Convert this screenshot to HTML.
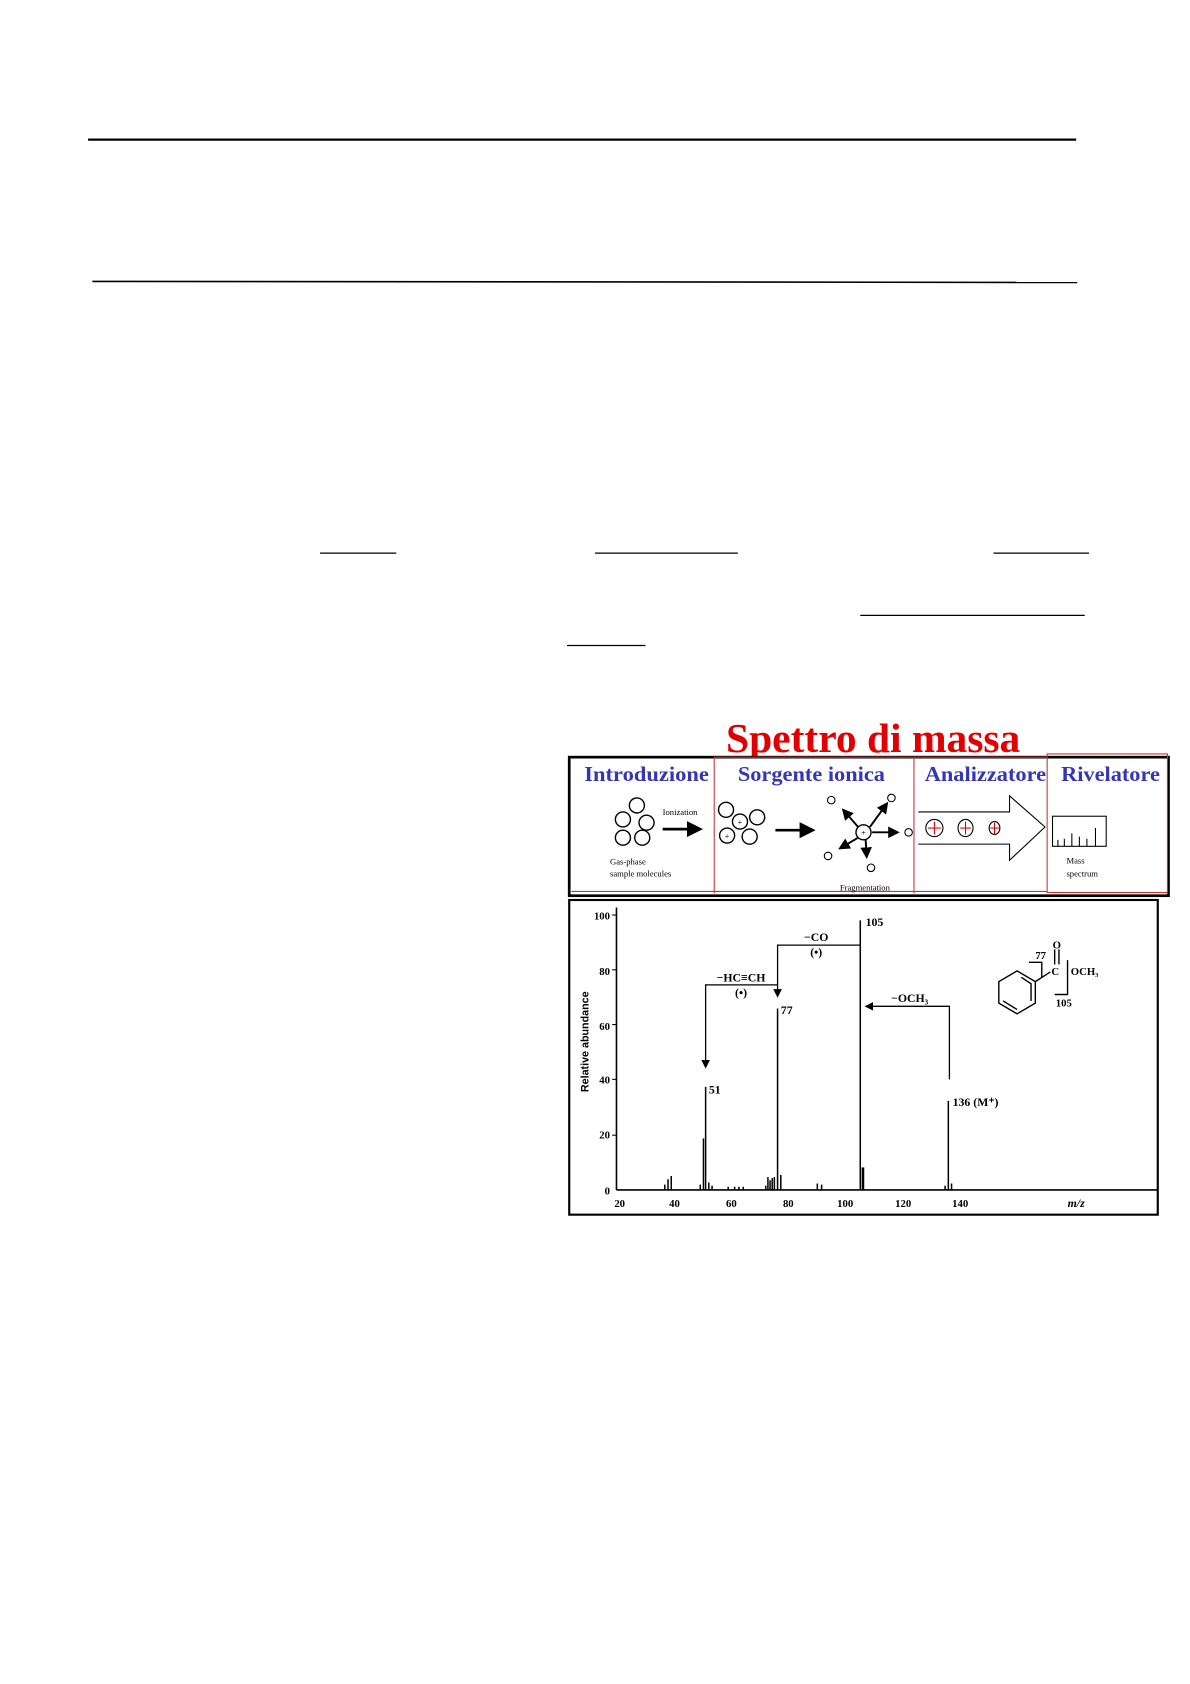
<!DOCTYPE html>
<html><head><meta charset="utf-8"><style>
html,body{margin:0;padding:0;background:#fff}
svg{display:block}
</style></head><body>
<svg width="1190" height="1684" viewBox="0 0 1108 1568" xmlns="http://www.w3.org/2000/svg" font-family="Liberation Serif, serif">
<line x1="82" y1="130" x2="1002" y2="130" stroke="#000" stroke-width="2"/>
<line x1="86" y1="262" x2="1003" y2="263" stroke="#000" stroke-width="1.5"/>
<g stroke="#000" stroke-width="1.2">
<line x1="298" y1="515" x2="369" y2="515"/>
<line x1="554" y1="515" x2="687" y2="515"/>
<line x1="925" y1="515" x2="1014" y2="515"/>
<line x1="801" y1="573" x2="1010" y2="573"/>
<line x1="528" y1="601" x2="601" y2="601"/>
</g>
<text x="676" y="700" font-size="38" font-weight="bold" fill="#e00000" textLength="274" lengthAdjust="spacingAndGlyphs">Spettro di massa</text>
<rect x="530" y="705" width="558" height="129" fill="#fff" stroke="#000" stroke-width="2.5"/>
<g stroke="#d03030" stroke-width="1" fill="none">
<line x1="665" y1="705" x2="665" y2="832"/>
<line x1="851" y1="705" x2="851" y2="832"/>
<rect x="975" y="702" width="112" height="129"/>
<line x1="532" y1="830" x2="975" y2="830"/>
<line x1="665" y1="705" x2="975" y2="705"/>
</g>
<g font-size="20" font-weight="bold" fill="#3535b5">
<text x="544" y="727" textLength="116" lengthAdjust="spacingAndGlyphs">Introduzione</text>
<text x="687" y="727" textLength="137" lengthAdjust="spacingAndGlyphs">Sorgente ionica</text>
<text x="861" y="727" textLength="113" lengthAdjust="spacingAndGlyphs">Analizzatore</text>
<text x="988" y="727" textLength="92" lengthAdjust="spacingAndGlyphs">Rivelatore</text>
</g>
<g fill="none" stroke="#000" stroke-width="1.3">
<circle cx="593" cy="750" r="7"/><circle cx="580" cy="763" r="7"/><circle cx="602" cy="766" r="7"/><circle cx="580" cy="780" r="7"/><circle cx="598" cy="780" r="7"/>
<circle cx="676" cy="754" r="7"/><circle cx="689" cy="765" r="7"/><circle cx="705" cy="761" r="7"/><circle cx="677" cy="778" r="7"/><circle cx="698" cy="779" r="7"/>
<circle cx="804" cy="775" r="7"/>
</g>
<g font-size="8" fill="#000">
<text x="617" y="759">Ionization</text>
<text x="568" y="805">Gas-phase</text>
<text x="568" y="816">sample molecules</text>
<text x="782" y="829">Fragmentation</text>
<text x="993" y="804">Mass</text>
<text x="993" y="816">spectrum</text>
<text x="689" y="768" text-anchor="middle">+</text>
<text x="677" y="781" text-anchor="middle">+</text>
<text x="804" y="778" text-anchor="middle">+</text>
</g>
<defs><marker id="ah" markerWidth="6" markerHeight="6" refX="5" refY="3" orient="auto"><path d="M0,0 L6,3 L0,6 z" fill="#000"/></marker>
<marker id="ah2" markerWidth="8" markerHeight="8" refX="7" refY="4" orient="auto" markerUnits="userSpaceOnUse"><path d="M0,0 L8,4 L0,8 z" fill="#000"/></marker></defs>
<g stroke="#000" stroke-width="2.5">
<line x1="617" y1="772" x2="652" y2="772" marker-end="url(#ah)"/>
<line x1="722" y1="773" x2="757" y2="773" marker-end="url(#ah)"/>
</g>
<g stroke="#000" stroke-width="1.8">
<line x1="810" y1="770" x2="826" y2="748" marker-end="url(#ah)"/>
<line x1="799" y1="770" x2="785" y2="754" marker-end="url(#ah)"/>
<line x1="799" y1="780" x2="782" y2="790" marker-end="url(#ah)"/>
<line x1="806" y1="782" x2="807" y2="798" marker-end="url(#ah)"/>
<line x1="812" y1="775" x2="836" y2="775" marker-end="url(#ah)"/>
</g>
<g fill="none" stroke="#000" stroke-width="1">
<circle cx="774" cy="745" r="3.5"/><circle cx="830" cy="743" r="3.5"/><circle cx="771" cy="797" r="3.5"/><circle cx="811" cy="808" r="3.5"/><circle cx="846" cy="775" r="3.5"/>
</g>
<path d="M855,756 L940,756 L940,741 L973,770 L940,801 L940,786 L855,786" fill="#fff" stroke="#000" stroke-width="1"/>
<g fill="none" stroke="#000" stroke-width="1"><ellipse cx="870" cy="771" rx="8" ry="8"/><ellipse cx="899" cy="771" rx="7" ry="8"/><ellipse cx="926" cy="771" rx="5" ry="6"/></g>
<g stroke="#e00000" stroke-width="1"><line x1="864" y1="771" x2="876" y2="771"/><line x1="870" y1="765" x2="870" y2="777"/><line x1="894" y1="771" x2="904" y2="771"/><line x1="899" y1="765" x2="899" y2="777"/><line x1="922" y1="771" x2="931" y2="771"/><line x1="926" y1="766" x2="926" y2="777"/></g>
<rect x="980" y="760" width="50" height="28" fill="none" stroke="#000" stroke-width="1"/>
<g stroke="#000" stroke-width="1"><line x1="985" y1="788" x2="985" y2="782"/><line x1="991" y1="788" x2="991" y2="781"/><line x1="998" y1="788" x2="998" y2="776"/><line x1="1005" y1="788" x2="1005" y2="779"/><line x1="1012" y1="788" x2="1012" y2="781"/><line x1="1020" y1="788" x2="1020" y2="771"/></g>
<rect x="530" y="838" width="548" height="293" fill="#fff" stroke="#000" stroke-width="2"/>
<line x1="574" y1="845" x2="574" y2="1108" stroke="#000" stroke-width="1.5"/>
<line x1="574" y1="1108" x2="1078" y2="1108" stroke="#000" stroke-width="1.5"/>
<g font-size="10" font-weight="bold" fill="#000" text-anchor="end">
<text x="568" y="856">100</text><text x="568" y="908">80</text><text x="568" y="959">60</text><text x="568" y="1009">40</text><text x="568" y="1060">20</text><text x="568" y="1112">0</text>
</g>
<g stroke="#000" stroke-width="1"><line x1="570" y1="852" x2="574" y2="852"/><line x1="570" y1="903" x2="574" y2="903"/><line x1="570" y1="954" x2="574" y2="954"/><line x1="570" y1="1005" x2="574" y2="1005"/><line x1="570" y1="1057" x2="574" y2="1057"/></g>
<g font-size="10" font-weight="bold" fill="#000" text-anchor="middle">
<text x="577" y="1124">20</text><text x="628" y="1124">40</text><text x="681" y="1124">60</text><text x="734" y="1124">80</text><text x="787" y="1124">100</text><text x="841" y="1124">120</text><text x="894" y="1124">140</text>
</g>
<text x="1002" y="1124" font-size="11" font-style="italic" font-weight="bold" text-anchor="middle">m/z</text>
<text transform="translate(548,970) rotate(-90)" font-size="10" font-weight="bold" font-family="Liberation Sans, sans-serif" text-anchor="middle">Relative abundance</text>
<g stroke="#000" stroke-width="1.4">
<line x1="801" y1="1108" x2="801" y2="857"/>
<line x1="724" y1="1108" x2="724" y2="939"/>
<line x1="657" y1="1108" x2="657" y2="1012"/>
<line x1="883" y1="1108" x2="883" y2="1025"/>
<line x1="655" y1="1108" x2="655" y2="1060"/>
<line x1="803" y1="1108" x2="803" y2="1087"/>
<line x1="804" y1="1108" x2="804" y2="1087"/>
<line x1="625" y1="1108" x2="625" y2="1095"/>
<line x1="622" y1="1108" x2="622" y2="1098"/>
<line x1="619" y1="1108" x2="619" y2="1103"/>
<line x1="652" y1="1108" x2="652" y2="1103"/>
<line x1="660" y1="1108" x2="660" y2="1101"/>
<line x1="663" y1="1108" x2="663" y2="1104"/>
<line x1="678" y1="1108" x2="678" y2="1105"/>
<line x1="684" y1="1108" x2="684" y2="1105"/>
<line x1="688" y1="1108" x2="688" y2="1105"/>
<line x1="692" y1="1108" x2="692" y2="1105"/>
<line x1="713" y1="1108" x2="713" y2="1104"/>
<line x1="715" y1="1108" x2="715" y2="1096"/>
<line x1="717" y1="1108" x2="717" y2="1099"/>
<line x1="719" y1="1108" x2="719" y2="1097"/>
<line x1="721" y1="1108" x2="721" y2="1096"/>
<line x1="727" y1="1108" x2="727" y2="1094"/>
<line x1="761" y1="1108" x2="761" y2="1102"/>
<line x1="765" y1="1108" x2="765" y2="1103"/>
<line x1="880" y1="1108" x2="880" y2="1104"/>
<line x1="886" y1="1108" x2="886" y2="1102"/>
</g>
<g stroke="#000" stroke-width="1.2" fill="none">
<polyline points="801,880 724,880 724,928" marker-end="url(#ah2)"/>
<polyline points="724,917 657,917 657,994" marker-end="url(#ah2)"/>
<polyline points="884,1005 884,937 806,937" marker-end="url(#ah2)"/>
</g>
<g font-size="11" font-weight="bold" fill="#000">
<text x="806" y="862">105</text>
<text x="727" y="944">77</text>
<text x="660" y="1018">51</text>
<text x="887" y="1030">136 (M⁺)</text>
<text x="760" y="876" text-anchor="middle">−CO</text>
<text x="760" y="890" text-anchor="middle">(•)</text>
<text x="690" y="914" text-anchor="middle">−HC≡CH</text>
<text x="690" y="928" text-anchor="middle">(•)</text>
<text x="847" y="933" text-anchor="middle">−OCH₃</text>
</g>
<g stroke="#000" stroke-width="1.3" fill="none">
<polygon points="947,904 964,914 964,934 947,944 930,934 930,914"/>
<polyline points="951,910 960,916 960,932"/>
<line x1="947" y1="940" x2="934" y2="932"/>
<line x1="964" y1="914" x2="978" y2="905"/>
<line x1="982" y1="898" x2="982" y2="884"/>
<line x1="986" y1="898" x2="986" y2="884"/>
<polyline points="958,896 970,896 970,910"/>
<polyline points="994,894 994,926 982,926"/>
</g>
<g font-size="10" font-weight="bold" fill="#000">
<text x="984" y="883" text-anchor="middle">O</text>
<text x="979" y="908">C</text>
<text x="997" y="908">OCH₃</text>
<text x="964" y="893">77</text>
<text x="983" y="937">105</text>
</g>
</svg>
</body></html>
